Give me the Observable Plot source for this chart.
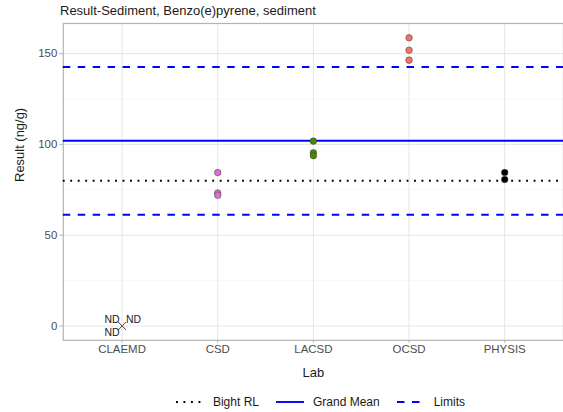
<!DOCTYPE html>
<html>
<head>
<meta charset="utf-8">
<script src="https://cdn.jsdelivr.net/npm/d3@7"></script>
<script src="https://cdn.jsdelivr.net/npm/@observablehq/plot@0.6"></script>
<style>
  html, body { margin: 0; padding: 0; background: #fff; width: 563px; height: 412px; overflow: hidden; }
  body { font-family: "Liberation Sans", Arial, Helvetica, sans-serif; position: relative; }
  #title { height: 18px; font-size: 13px; color: #1a1a1a; padding-left: 60px; line-height: 22px; white-space: nowrap; }
  #chart svg { display: block; overflow: visible; }
  #legend { position: absolute; top: 392px; left: 0; width: 640px; display: flex; justify-content: center; align-items: center; font-size: 12px; color: #1a1a1a; height: 20px; }
  #legend .item { display: flex; align-items: center; margin: 0 8px; }
  #legend svg { margin-right: 8px; }
</style>
</head>
<body>
<div id="title">Result-Sediment, Benzo(e)pyrene, sediment</div>
<div id="chart"></div>
<div id="legend"></div>
<script>
// ---- data ----
const labs = ["CLAEMD", "CSD", "LACSD", "OCSD", "PHYSIS"];
const resultLab = ["CSD", "CSD", "CSD", "LACSD", "LACSD", "LACSD", "OCSD", "OCSD", "OCSD", "PHYSIS", "PHYSIS"];
const resultValue = [84.5, 73.2, 72.0, 101.8, 95.4, 93.8, 158.7, 151.9, 146.4, 84.5, 80.7];
const ndLab = ["CLAEMD", "CLAEMD", "CLAEMD"];
const ndValue = [0, 0, 0];
const ndText = ["ND", "ND", "ND"];
const colorLabs = ["CSD", "LACSD", "OCSD", "PHYSIS"];
const colorValues = ["#DA70D6", "#458B00", "#F07466", "#000000"];
const grandMean = 102;
const limits = [61.3, 142.7];
const bightRL = 80;
const yTicks = [0, 50, 100, 150];
const yMinorTicks = [25, 75, 125];
const legendLabels = ["Bight RL", "Grand Mean", "Limits"];

// ---- table ----
const results = resultLab.map((lab, i) => ({lab, value: resultValue[i]}));
const nds = ndLab.map((lab, i) => ({lab, value: ndValue[i], text: ndText[i]}));
const ndOffsets = [[-10, -6], [11.5, -6], [-10, 6.5]];

const chart = Plot.plot({
  width: 565,
  height: 368,
  marginLeft: 63,
  marginRight: 0,
  marginTop: 5,
  marginBottom: 45,
  style: {fontFamily: "'Liberation Sans', Arial, Helvetica, sans-serif", background: "white"},
  x: {type: "point", domain: labs, padding: 0.6},
  y: {domain: [-7.9, 166.6]},
  color: {domain: colorLabs, range: colorValues},
  marks: [
    Plot.gridY(yMinorTicks, {stroke: "#f2f2f2", strokeOpacity: 1, strokeWidth: 0.6}),
    Plot.gridY(yTicks, {stroke: "#e3e3e3", strokeOpacity: 1, strokeWidth: 0.9}),
    Plot.gridX(labs, {stroke: "#e3e3e3", strokeOpacity: 1, strokeWidth: 0.9}),
    Plot.frame({stroke: "#b3b3b3", strokeWidth: 1.2}),
    Plot.axisY(yTicks, {tickSize: 3.5, tickPadding: 2.5, stroke: "#b3b3b3", fill: "#4d4d4d", fontSize: 11.5, label: null}),
    Plot.axisX(labs, {tickSize: 3, tickPadding: 1.5, stroke: "#b3b3b3", fill: "#4d4d4d", fontSize: 11.5, label: null}),
    Plot.text(["Result (ng/g)"], {text: d => d, frameAnchor: "left", dx: -44, rotate: -90, fontSize: 13, fill: "#1a1a1a"}),
    Plot.text(["Lab"], {text: d => d, frameAnchor: "bottom", dy: 37, fontSize: 13, fill: "#1a1a1a"}),
    Plot.ruleY([bightRL], {stroke: "#000", strokeWidth: 1.9, strokeDasharray: "1.9,5.6"}),
    Plot.ruleY([grandMean], {stroke: "#0000FF", strokeWidth: 2}),
    Plot.ruleY(limits, {stroke: "#0000FF", strokeWidth: 2, strokeDasharray: "7.5,7.5"}),
    Plot.dot(results, {x: "lab", y: "value", fill: "lab", stroke: "#3a3a3a", strokeWidth: 0.5, r: 3.3}),
    Plot.dot(nds, {x: "lab", y: "value", symbol: "times", stroke: "#555", strokeWidth: 0.8, r: 3.6}),
    ...nds.map((d, i) => Plot.text([d], {x: "lab", y: "value", text: "text", dx: ndOffsets[i][0], dy: ndOffsets[i][1], fontSize: 10.5, fill: "#1a1a1a"}))
  ]
});
document.getElementById("chart").appendChild(chart);

// ---- legend ----
const legendDash = ["1.9,5.6", null, "7.5,7.5"];
const legendColor = ["#000", "#0000FF", "#0000FF"];
const legend = document.getElementById("legend");
legendLabels.forEach((label, i) => {
  const item = document.createElement("div");
  item.className = "item";
  const ns = "http://www.w3.org/2000/svg";
  const s = document.createElementNS(ns, "svg");
  s.setAttribute("width", 30); s.setAttribute("height", 14);
  const l = document.createElementNS(ns, "line");
  l.setAttribute("x1", 1); l.setAttribute("x2", 29); l.setAttribute("y1", 7); l.setAttribute("y2", 7);
  l.setAttribute("stroke", legendColor[i]); l.setAttribute("stroke-width", 1.9);
  if (legendDash[i]) l.setAttribute("stroke-dasharray", legendDash[i]);
  s.appendChild(l);
  item.appendChild(s);
  const t = document.createElement("span");
  t.textContent = label;
  item.appendChild(t);
  legend.appendChild(item);
});
</script>
</body>
</html>
